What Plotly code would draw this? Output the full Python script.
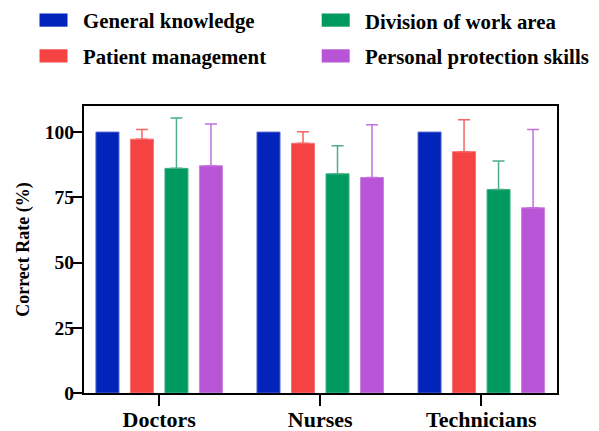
import plotly.graph_objects as go

categories = ["Doctors", "Nurses", "Technicians"]
series_names = ["General knowledge", "Patient management", "Division of work area", "Personal protection skills"]
general = [100, 100, 100]
patient = [97.3, 95.7, 92.5]
patient_err = [3.7, 4.4, 12.2]
division = [86.1, 84.0, 78.0]
division_err = [19.3, 10.8, 10.9]
personal = [87.1, 82.6, 71.0]
personal_err = [16.0, 20.2, 30.0]
y_ticks = [0, 25, 50, 75, 100]

colors = ["#0224BB", "#F54343", "#009960", "#B855D6"]
line_colors = ["#4D63D0", "#F77474", "#40B285", "#C984E0"]
err_colors = [None, "#F56565", "#4DAE88", "#C272E0"]

FONT = "Liberation Serif, Times New Roman, serif"

OFF = 8  # default page body margin
fig = go.Figure()
values = [general, patient, division, personal]
errs = [None, patient_err, division_err, personal_err]
for i, name in enumerate(series_names):
    kw = {}
    if errs[i] is not None:
        kw["error_y"] = dict(type="data", array=errs[i], arrayminus=[0] * len(errs[i]),
                             symmetric=False, color=err_colors[i], thickness=1.5, width=6)
    fig.add_trace(go.Bar(
        x=categories, y=values[i], name=name,
        marker=dict(color=colors[i], line=dict(color=line_colors[i], width=1)),
        showlegend=False, **kw))

# custom 2x2 legend: (swatch left, swatch top, text left) in page pixels
legend_pos = [(39.5, 13.5, 83.5), (39.5, 49.3, 83.5), (321.7, 13.5, 365.5), (321.7, 49.3, 365.5)]
SW, SH = 28, 13.2
W, H = 599 - OFF, 431 - OFF
L, R, T, B = 84 - OFF, 557 - OFF, 106 - OFF, 393 - OFF
for i, name in enumerate(series_names):
    x0, y0, tx = legend_pos[i]
    x0 -= OFF
    y0 -= OFF
    tx -= OFF
    fig.add_shape(type="rect", xref="paper", yref="paper",
                  x0=(x0 - L) / (R - L), x1=(x0 + SW - L) / (R - L),
                  y0=(B - y0) / (B - T), y1=(B - y0 - SH) / (B - T),
                  fillcolor=colors[i], line=dict(width=0), layer="above")
    fig.add_annotation(xref="paper", yref="paper",
                       x=(tx - L) / (R - L), y=(B - y0 - 7.5) / (B - T),
                       text="<b>%s</b>" % name, showarrow=False, xanchor="left", yanchor="middle",
                       xshift=-3,
                       font=dict(family=FONT, size=20.8, color="black"))

fig.update_layout(
    width=W, height=H,
    margin=dict(l=L, r=W - R, t=T, b=H - B, autoexpand=False),
    plot_bgcolor="white", paper_bgcolor="white",
    barmode="group", bargap=0.143, bargroupgap=0.333,
    font=dict(family=FONT, color="black"),
)
fig.update_xaxes(
    range=[-0.467, 2.47], showline=True, linecolor="black", linewidth=2, mirror=True,
    ticks="outside", ticklen=11, tickwidth=2, tickcolor="black", automargin=False,
    ticklabelstandoff=-5,
    tickvals=categories, ticktext=["<b>%s</b>" % c for c in categories],
    tickfont=dict(family=FONT, size=22, color="black"), showgrid=False,
)
fig.update_yaxes(
    range=[0, 110], showline=True, linecolor="black", linewidth=2, mirror=True,
    ticks="outside", ticklen=11, tickwidth=2, tickcolor="black", automargin=False,
    ticklabelstandoff=-7,
    tickvals=y_ticks, ticktext=["<b>%d</b>" % v for v in y_ticks],
    tickfont=dict(family=FONT, size=19.5, color="black"), showgrid=False, zeroline=False,
    title=dict(text="<b>Correct Rate (%)</b>", font=dict(family=FONT, size=18, color="black"), standoff=11),
)

fig.write_html("out.html")
